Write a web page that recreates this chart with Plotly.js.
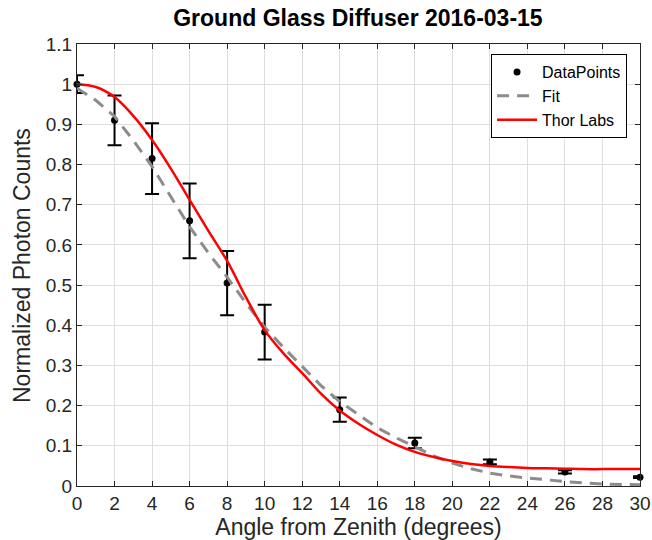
<!DOCTYPE html>
<html>
<head>
<meta charset="utf-8">
<script src="https://cdn.plot.ly/plotly-3.0.1.min.js"></script>
<style>html,body{margin:0;padding:0;background:#fff;}#chart{width:652px;height:540px;}</style>
</head>
<body>
<div id="chart"></div>
<script>
// Measured data points
var dataAngle = [0, 2, 4, 6, 8, 10, 14, 18, 22, 26, 30];
var dataValue = [1.0, 0.91, 0.815, 0.66, 0.505, 0.383, 0.19, 0.107, 0.06, 0.035, 0.022];
var dataError = [0.022, 0.062, 0.088, 0.093, 0.08, 0.068, 0.03, 0.013, 0.006, 0.004, 0.002];

// Fit curve (dashed)
var fitAngle = [0, 1, 2, 3, 4, 5, 6, 7, 8, 9, 10, 11, 12, 13, 14, 15, 16, 17, 18, 19, 20, 21, 22, 23, 24, 25, 26, 27, 28, 29, 30];
var fitValue = [0.99, 0.96, 0.92, 0.86, 0.795, 0.72, 0.645, 0.58, 0.52, 0.455, 0.395, 0.345, 0.297, 0.25, 0.21, 0.178, 0.145, 0.12, 0.098, 0.075, 0.057, 0.043, 0.032, 0.025, 0.02, 0.015, 0.011, 0.008, 0.005, 0.004, 0.003];

// Thor Labs curve
var thorAngle = [0, 1, 2, 3, 4, 5, 6, 7, 8, 9, 10, 11, 12, 13, 14, 15, 16, 17, 18, 19, 20, 21, 22, 23, 24, 25, 26, 27, 28, 29, 30];
var thorValue = [1.0, 0.993, 0.968, 0.921, 0.861, 0.79, 0.712, 0.635, 0.56, 0.47, 0.388, 0.33, 0.281, 0.23, 0.188, 0.155, 0.127, 0.103, 0.085, 0.072, 0.062, 0.055, 0.05, 0.047, 0.045, 0.044, 0.043, 0.042, 0.042, 0.042, 0.042];

var xTicks = [0, 2, 4, 6, 8, 10, 12, 14, 16, 18, 20, 22, 24, 26, 28, 30];
var yTicks = [0, 0.1, 0.2, 0.3, 0.4, 0.5, 0.6, 0.7, 0.8, 0.9, 1, 1.1];
var yTickText = ['0', '0.1', '0.2', '0.3', '0.4', '0.5', '0.6', '0.7', '0.8', '0.9', '1', '1.1'];

var FONT = 'Liberation Sans, Arial, Helvetica, sans-serif';

var traces = [
  {
    x: dataAngle, y: dataValue, name: 'DataPoints', type: 'scatter', mode: 'markers',
    marker: {color: '#000', size: 7},
    error_y: {type: 'data', array: dataError, visible: true, color: '#000', thickness: 2, width: 7},
    cliponaxis: false
  },
  {
    x: fitAngle, y: fitValue, name: 'Fit', type: 'scatter', mode: 'lines',
    line: {color: '#8c8c8c', width: 3, dash: '12px,8px'}
  },
  {
    x: thorAngle, y: thorValue, name: 'Thor Labs', type: 'scatter', mode: 'lines',
    line: {color: '#ff0000', width: 2.5, shape: 'spline'}
  }
];

var axisCommon = {
  showgrid: true, gridcolor: '#dedede', gridwidth: 1,
  zeroline: false, showline: true, linecolor: '#262626', linewidth: 1,
  mirror: 'ticks', ticks: 'inside', ticklen: 5, tickcolor: '#262626',
  tickfont: {family: FONT, size: 19, color: '#262626'}
};

var layout = {
  width: 652, height: 540,
  margin: {l: 77, r: 12, t: 44, b: 54},
  paper_bgcolor: '#fff', plot_bgcolor: '#fff',
  title: {text: '<b>Ground Glass Diffuser 2016-03-15</b>', x: 0.549, xanchor: 'center', y: 0.967, yanchor: 'middle',
    font: {family: FONT, size: 23, color: '#000'}},
  xaxis: Object.assign({}, axisCommon, {
    range: [0, 30], tickvals: xTicks,
    title: {text: 'Angle from Zenith (degrees)', standoff: 2, font: {family: FONT, size: 23, color: '#262626'}}
  }),
  yaxis: Object.assign({}, axisCommon, {
    range: [0, 1.1], tickvals: yTicks, ticktext: yTickText
  }),
  annotations: [{
    text: 'Normalized Photon Counts', textangle: -90, showarrow: false,
    xref: 'paper', yref: 'paper', x: -0.0977, y: 0.5, xanchor: 'center', yanchor: 'middle',
    font: {family: FONT, size: 23, color: '#262626'}
  }],
  showlegend: true,
  legend: {
    x: 0.977, xanchor: 'right', y: 0.977, yanchor: 'top',
    bgcolor: '#fff', bordercolor: '#000', borderwidth: 1,
    font: {family: FONT, size: 16, color: '#000'},
    tracegroupgap: 0, itemwidth: 40
  }
};

Plotly.newPlot('chart', traces, layout, {displayModeBar: false, staticPlot: true});
</script>
</body>
</html>
